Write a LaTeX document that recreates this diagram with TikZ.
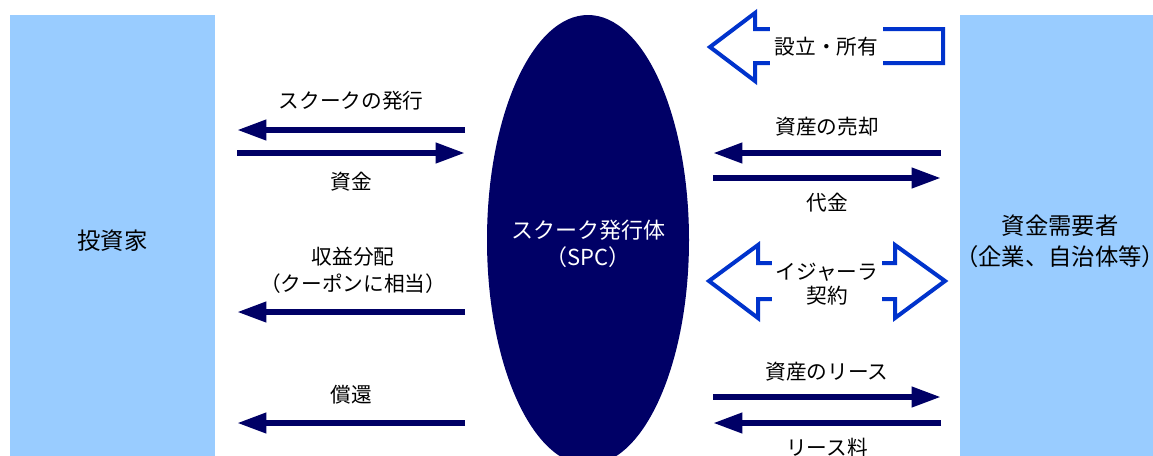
\documentclass[tikz,border=0pt]{standalone}
\usepackage{fontspec}
\setmainfont{Noto Sans CJK JP}
\usetikzlibrary{arrows.meta,shapes.geometric}
\definecolor{navy}{HTML}{000066}
\definecolor{boxblue}{HTML}{99CCFF}
\definecolor{outblue}{HTML}{0033CC}
\begin{document}
\begin{tikzpicture}[x=0.75pt,y=-0.75pt,
  flow/.style={navy, line width=4.5pt, -{Triangle[length=22pt,width=14.5pt]}},
  partybox/.style={rectangle, fill=boxblue, draw=none, inner sep=0pt},
  lbl/.style={inner sep=0pt, align=center, font=\fontsize{15.5}{20}\selectfont},
  biglbl/.style={inner sep=0pt, align=center, font=\fontsize{17.5}{23}\selectfont},
  blockarrow/.style={draw=outblue, line width=3pt, miter limit=10},
  gap/.style={fill=white, inner sep=0pt, align=center, font=\fontsize{15.5}{18}\selectfont}
]
\useasboundingbox (0,0) rectangle (1153,455);
\clip (0,0) rectangle (1153,455);
\fill[white] (0,0) rectangle (1153,455);

% parties
\node[partybox, minimum width=153.75pt, minimum height=341.25pt] (inv) at (112.5,242.5) {};
\node[biglbl] (invt) at (112.5,241) {投資家};
\node[partybox, minimum width=150pt, minimum height=341.25pt] (cor) at (1060,242.5) {};
\node[biglbl] (cort) at (1060,241.5) {資金需要者\\（企業、自治体等）};

% SPC
\node[ellipse, fill=navy, inner sep=0pt, minimum width=151.5pt, minimum height=337.5pt] (spc) at (588,240) {};
\node[inner sep=0pt, align=center, text=white, font=\fontsize{16.5}{20}\selectfont] (spct) at (588,243.5) {スクーク発行体\\（SPC）};

% left flows
\coordinate (l1a) at (465,130); \coordinate (l1b) at (237,130);
\coordinate (l2a) at (237,153); \coordinate (l2b) at (465,153);
\coordinate (l3a) at (465,312); \coordinate (l3b) at (237,312);
\coordinate (l4a) at (465,423); \coordinate (l4b) at (237,423);
\draw[flow] (l1a) -- (l1b);
\draw[flow] (l2a) -- (l2b);
\draw[flow] (l3a) -- (l3b);
\draw[flow] (l4a) -- (l4b);
\node[lbl] (t1) at (351,101) {スクークの発行};
\node[lbl] (t2) at (351,182) {資金};
\node[lbl, font=\fontsize{15.5}{20}\selectfont] (t3) at (353,270.5) {収益分配\\（クーポンに相当）};
\node[lbl] (t4) at (351,395) {償還};

% right flows
\coordinate (r1a) at (941,153); \coordinate (r1b) at (713,153);
\coordinate (r2a) at (713,178); \coordinate (r2b) at (941,178);
\coordinate (r3a) at (713,397); \coordinate (r3b) at (941,397);
\coordinate (r4a) at (941,423); \coordinate (r4b) at (713,423);
\draw[flow] (r1a) -- (r1b);
\draw[flow] (r2a) -- (r2b);
\draw[flow] (r3a) -- (r3b);
\draw[flow] (r4a) -- (r4b);
\node[lbl] (s1) at (827,127) {資産の売却};
\node[lbl] (s2) at (827,203) {代金};
\node[lbl] (s3) at (827,372) {資産のリース};
\node[lbl] (s4) at (827,448) {リース料};

% block arrows
\draw[blockarrow] (710,47) -- (755,13) -- (755,29) -- (943,29) -- (943,63) -- (755,63) -- (755,81) -- cycle;
\node[gap, minimum width=84.75pt, minimum height=33pt] (own) at (826.5,47) {設立・所有};
\draw[blockarrow] (709,281) -- (758,245) -- (758,263) -- (895,263) -- (895,245) -- (945,281) -- (895,318) -- (895,299) -- (758,299) -- (758,318) -- cycle;
\node[gap, minimum width=82.5pt, minimum height=38pt] (ijr) at (827,284) {イジャーラ\\契約};
\end{tikzpicture}
\end{document}
